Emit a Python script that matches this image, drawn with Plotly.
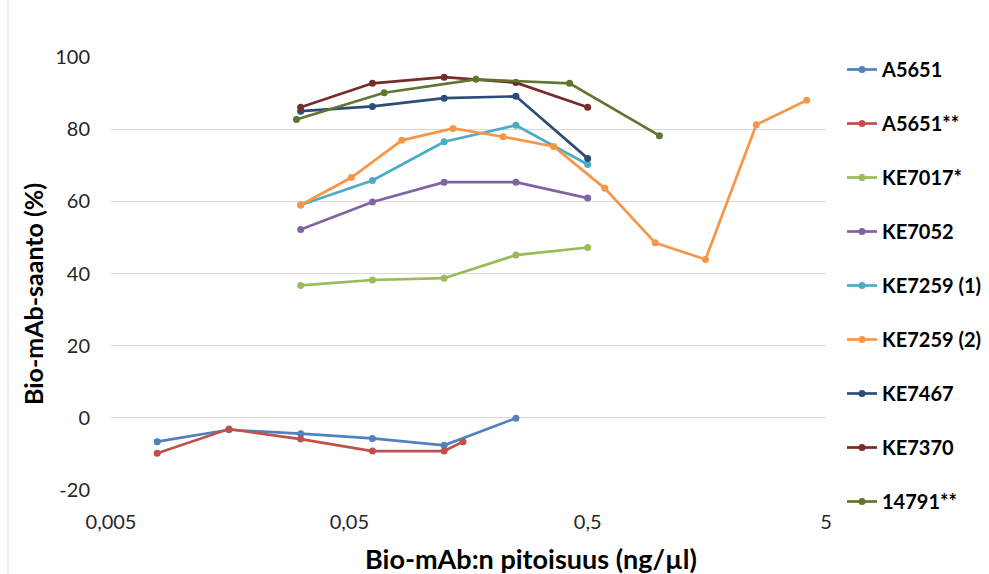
import numpy as np
import plotly.graph_objects as go

# Concentration series (ng/µl)
x_std = [0.0078125, 0.015625, 0.03125, 0.0625, 0.125, 0.25]
x_std_b = [0.0078125, 0.015625, 0.03125, 0.0625, 0.125, 0.15]
x_five = [0.03125, 0.0625, 0.125, 0.25, 0.5]
x_7259b = [0.03125, 0.051, 0.083, 0.136, 0.221, 0.36, 0.59, 0.96, 1.56, 2.55, 4.15]
x_14791 = [0.03, 0.07, 0.17, 0.42, 1.0]

# Yields (%)
y_a5651 = [-6.6, -3.3, -4.4, -5.7, -7.6, -0.1]
y_a5651b = [-9.8, -3.1, -5.9, -9.2, -9.2, -6.6]
y_ke7017 = [36.7, 38.2, 38.7, 45.1, 47.2]
y_ke7052 = [52.2, 59.8, 65.3, 65.3, 60.9]
y_ke7259a = [59.0, 65.8, 76.5, 81.1, 70.2]
y_ke7259b = [59.0, 66.6, 76.9, 80.2, 77.9, 75.2, 63.6, 48.5, 43.9, 81.2, 88.0]
y_ke7467 = [85.0, 86.3, 88.6, 89.1, 71.9]
y_ke7370 = [86.1, 92.7, 94.4, 92.9, 86.1]
y_14791 = [82.7, 90.1, 93.8, 92.7, 78.2]

names = ["A5651", "A5651**", "KE7017*", "KE7052", "KE7259 (1)",
         "KE7259 (2)", "KE7467", "KE7370", "14791**"]
xs = [x_std, x_std_b, x_five, x_five, x_five, x_7259b, x_five, x_five, x_14791]
ys = [y_a5651, y_a5651b, y_ke7017, y_ke7052, y_ke7259a,
      y_ke7259b, y_ke7467, y_ke7370, y_14791]
colors = ["#4F81BD", "#C0504D", "#9BBB59", "#8064A2", "#4BACC6",
          "#F79646", "#2C4D75", "#772C2A", "#5F7530"]

x_tick_vals = [0.005, 0.05, 0.5, 5]
x_tick_text = ["0,005", "0,05", "0,5", "5"]
y_tick_vals = [-20, 0, 20, 40, 60, 80, 100]
y_tick_text = ["-20", "0", "20", "40", "60", "80", "100"]

W, H = 989, 574
L, T, B = 111, 57, 490      # plot area left / top / bottom (px)
PLOT_R = 826                # right end of the x axis (px)
MR = 0                      # legend sits inside the paper, to the right of the axis
PW = W - L - MR


def px_x(p):
    return (p - L) / PW


def px_y(p):
    return (B - p) / (B - T)


FONT = "Lato"

fig = go.Figure()
for i, (n, xv, yv, c) in enumerate(zip(names, xs, ys, colors)):
    fig.add_trace(go.Scatter(
        x=xv, y=yv, name=n, mode="lines+markers",
        line=dict(color=c, width=2.7),
        marker=dict(color=c, size=7),
        legendgroup=f"g{i}",
    ))

fig.update_layout(
    width=W, height=H,
    margin=dict(l=L, r=MR, t=T, b=H - B, autoexpand=False),
    paper_bgcolor="white", plot_bgcolor="white",
    font=dict(family=FONT, size=20, color="#262626"),
    showlegend=True,
    legend=dict(
        x=px_x(842), y=px_y(50), xanchor="left", yanchor="top",
        font=dict(family=FONT, size=20, color="#000000", weight="bold"),
        tracegroupgap=25, itemwidth=30, maxheight=1.0,
        bgcolor="rgba(0,0,0,0)",
    ),
    xaxis=dict(
        type="log", range=[np.log10(0.005), np.log10(5)],
        domain=[0, px_x(PLOT_R)],
        tickvals=x_tick_vals, ticktext=x_tick_text,
        showgrid=False, zeroline=False, showline=False,
        ticks="", ticklabelstandoff=18,
        tickfont=dict(family=FONT, size=20, color="#262626"),
    ),
    yaxis=dict(
        range=[-20, 100], tickvals=y_tick_vals, ticktext=y_tick_text,
        showgrid=True, gridcolor="#D9D9D9", gridwidth=1,
        zeroline=False, showline=False, ticks="",
        ticklabelstandoff=20,
        tickfont=dict(family=FONT, size=20, color="#262626"),
    ),
    annotations=[
        dict(text="Bio-mAb:n pitoisuus (ng/µl)", xref="paper", yref="paper",
             x=px_x(531), y=px_y(558), xanchor="center", yanchor="middle",
             showarrow=False,
             font=dict(family=FONT, size=27, color="#000000", weight="bold")),
        dict(text="Bio-mAb-saanto (%)", xref="paper", yref="paper",
             x=px_x(33), y=px_y(294), xanchor="center", yanchor="middle",
             textangle=-90, showarrow=False,
             font=dict(family=FONT, size=25, color="#000000", weight="bold")),
    ],
    shapes=[
        dict(type="line", xref="paper", yref="paper",
             x0=px_x(8), x1=px_x(8), y0=px_y(0), y1=px_y(H),
             line=dict(color="#D9D9D9", width=1)),
    ],
)

fig.write_html("out.html")
